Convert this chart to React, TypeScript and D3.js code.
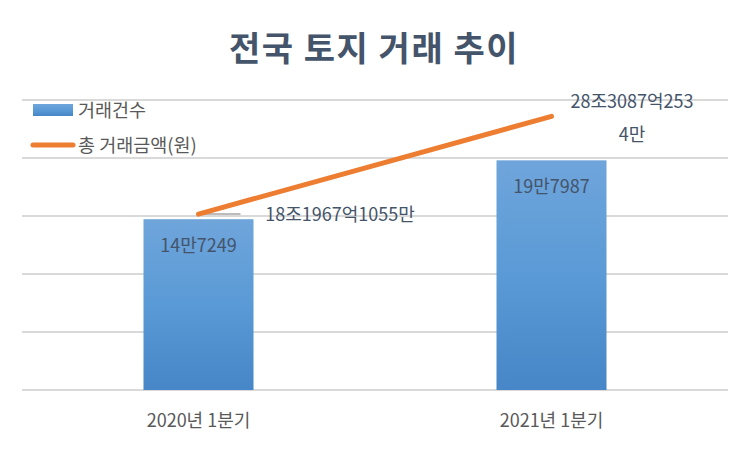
import React from 'react';
import * as d3 from 'd3';

const categories = ['2020년 1분기', '2021년 1분기'];
const dealCounts = [147249, 197987];
const dealCountLabels = ['14만7249', '19만7987'];
const dealAmounts = [18.19671055, 28.30872534]; // 조 원
const dealAmountLabels = [['18조1967억1055만'], ['28조3087억253', '4만']];
const countTicks = [0, 50000, 100000, 150000, 200000, 250000];

const W = 750;
const H = 450;
const FONT = "'Noto Sans CJK KR', 'Noto Sans', sans-serif";

function App() {
  const x = d3.scaleBand().domain(categories).range([22, 728]);
  const y = d3.scaleLinear().domain([0, 250000]).range([390, 100]);
  const y2 = d3.scaleLinear().domain([0, 30]).range([390, 100]);
  const barW = 110;

  const line = d3.line<number>()
    .x((_, i) => x(categories[i])! + x.bandwidth() / 2)
    .y(d => y2(d));

  return (
    <svg width={W} height={H} style={{ display: 'block', margin: '-8px' }} fontFamily={FONT}>
      <defs>
        <linearGradient id="barGrad" x1="0" y1="0" x2="0" y2="1">
          <stop offset="0%" stopColor="#6fa5db" />
          <stop offset="50%" stopColor="#5a9ad6" />
          <stop offset="100%" stopColor="#4786c7" />
        </linearGradient>
      </defs>
      <rect width={W} height={H} fill="#fff" />
      <text x={374} y={61} textAnchor="middle" fontSize={34} fontWeight="bold" fill="#44546a" letterSpacing={1.5}>
        전국 토지 거래 추이
      </text>

      {countTicks.map(t => (
        <line key={t} x1={22} x2={728} y1={y(t)} y2={y(t)} stroke="#d9d9d9" strokeWidth={2} />
      ))}

      {dealCounts.map((v, i) => {
        const cx = x(categories[i])! + x.bandwidth() / 2;
        return (
          <g key={i}>
            <rect x={cx - barW / 2} y={y(v)} width={barW} height={y(0) - y(v)} fill="url(#barGrad)" />
            <text x={cx} y={y(v) + 33} textAnchor="middle" fontSize={18} fill="#44546a">
              {dealCountLabels[i]}
            </text>
            <text x={cx} y={427} textAnchor="middle" fontSize={18} fill="#595959">
              {categories[i]}
            </text>
          </g>
        );
      })}

      {/* leader line for first amount label */}
      <line
        x1={x(categories[0])! + x.bandwidth() / 2}
        x2={x(categories[0])! + x.bandwidth() / 2 + 42}
        y1={y2(dealAmounts[0])}
        y2={y2(dealAmounts[0])}
        stroke="#a6a6a6"
        strokeWidth={1.5}
      />
      <path d={line(dealAmounts) ?? ''} fill="none" stroke="#ed7d31" strokeWidth={5} strokeLinecap="round" />

      <text x={340} y={y2(dealAmounts[0]) + 7} textAnchor="middle" fontSize={18} fill="#44546a">
        {dealAmountLabels[0][0]}
      </text>
      {dealAmountLabels[1].map((s, j) => (
        <text key={j} x={632} y={y2(dealAmounts[1]) - 8 + j * 33} textAnchor="middle" fontSize={18} fill="#44546a">
          {s}
        </text>
      ))}

      {/* legend */}
      <rect x={33} y={104} width={40} height={12} fill="url(#barGrad)" />
      <text x={78} y={117} fontSize={18.5} fill="#595959">거래건수</text>
      <line x1={33} x2={73} y1={145} y2={145} stroke="#ed7d31" strokeWidth={5} strokeLinecap="round" />
      <text x={78} y={152} fontSize={18.5} fill="#595959">총 거래금액(원)</text>
    </svg>
  );
}

export default App;
